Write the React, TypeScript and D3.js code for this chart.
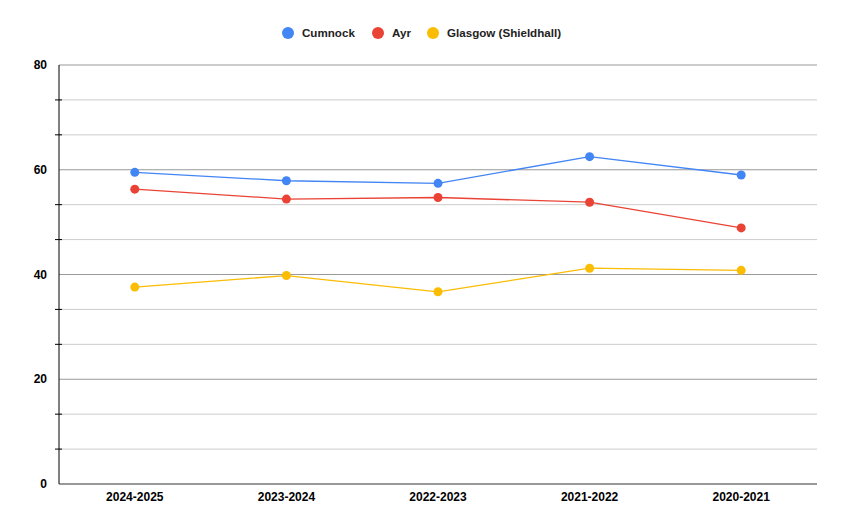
import { useEffect, useRef } from "react";
import * as d3 from "d3";

const categories = ["2024-2025", "2023-2024", "2022-2023", "2021-2022", "2020-2021"];
const seriesNames = ["Cumnock", "Ayr", "Glasgow (Shieldhall)"];
const seriesColors = ["#4285f4", "#ea4335", "#fbbc04"];
const cumnock = [59.5, 57.9, 57.4, 62.5, 59.0];
const ayr = [56.3, 54.4, 54.7, 53.8, 48.9];
const glasgow = [37.6, 39.8, 36.7, 41.2, 40.8];
const majorTicks = [0, 20, 40, 60, 80];
const minorTicks = [20 / 3, 40 / 3, 80 / 3, 100 / 3, 140 / 3, 160 / 3, 200 / 3, 220 / 3];

const W = 844;
const H = 531;
const FONT = "'Liberation Sans', Arial, sans-serif";

export default function App() {
    const ref = useRef<SVGSVGElement>(null);

    useEffect(() => {
        const svg = d3.select(ref.current);
        svg.selectAll("*").remove();

        const left = 59, right = 817, top = 65, bottom = 484;

        const x = d3.scaleBand()
            .domain(categories)
            .range([left, right]);
        const y = d3.scaleLinear()
            .domain([0, 80])
            .range([bottom, top]);

        // gridlines
        svg.append("g").selectAll("line")
            .data(minorTicks)
            .enter()
            .append("line")
                .attr("x1", left).attr("x2", right)
                .attr("y1", (d) => y(d)).attr("y2", (d) => y(d))
                .attr("stroke", "#cccccc").attr("stroke-width", 1);
        svg.append("g").selectAll("line")
            .data(majorTicks.filter((d) => d > 0))
            .enter()
            .append("line")
                .attr("x1", left).attr("x2", right)
                .attr("y1", (d) => y(d)).attr("y2", (d) => y(d))
                .attr("stroke", "#999999").attr("stroke-width", 1);

        // minor tick marks on the axis
        svg.append("g").selectAll("line")
            .data(minorTicks)
            .enter()
            .append("line")
                .attr("x1", left - 4).attr("x2", left + 3)
                .attr("y1", (d) => y(d)).attr("y2", (d) => y(d))
                .attr("stroke", "#000").attr("stroke-width", 1);

        // axis lines
        svg.append("line")
            .attr("x1", left).attr("x2", left)
            .attr("y1", top).attr("y2", bottom)
            .attr("stroke", "#000").attr("stroke-width", 1);
        svg.append("line")
            .attr("x1", left).attr("x2", right)
            .attr("y1", bottom).attr("y2", bottom)
            .attr("stroke", "#333").attr("stroke-width", 1);

        // y labels
        svg.append("g").selectAll("text")
            .data(majorTicks)
            .enter()
            .append("text")
                .attr("x", 47)
                .attr("y", (d) => y(d))
                .attr("dy", "0.35em")
                .attr("text-anchor", "end")
                .attr("font-family", FONT)
                .attr("font-size", 12)
                .attr("font-weight", "bold")
                .attr("fill", "#000")
                .text((d) => d);

        // x labels
        svg.append("g").selectAll("text")
            .data(categories)
            .enter()
            .append("text")
                .attr("x", (d) => (x(d) ?? 0) + x.bandwidth() / 2)
                .attr("y", 497)
                .attr("dy", "0.35em")
                .attr("text-anchor", "middle")
                .attr("font-family", FONT)
                .attr("font-size", 12)
                .attr("font-weight", "bold")
                .attr("fill", "#000")
                .text((d) => d);

        // series
        const allSeries = [cumnock, ayr, glasgow];
        const line = d3.line<number>()
            .x((d, i) => (x(categories[i]) ?? 0) + x.bandwidth() / 2)
            .y((d) => y(d));

        allSeries.forEach((values, si) => {
            const g = svg.append("g");
            g.append("path")
                .datum(values)
                .attr("d", line)
                .attr("fill", "none")
                .attr("stroke", seriesColors[si])
                .attr("stroke-width", 1.3);
            g.selectAll("circle")
                .data(values)
                .enter()
                .append("circle")
                    .attr("cx", (d, i) => (x(categories[i]) ?? 0) + x.bandwidth() / 2)
                    .attr("cy", (d) => y(d))
                    .attr("r", 4.5)
                    .attr("fill", seriesColors[si]);
        });

        // legend
        const legendX = [288, 378, 433];
        const legend = svg.append("g");
        seriesNames.forEach((name, i) => {
            legend.append("circle")
                .attr("cx", legendX[i])
                .attr("cy", 33)
                .attr("r", 6)
                .attr("fill", seriesColors[i]);
            legend.append("text")
                .attr("x", legendX[i] + 14)
                .attr("y", 33)
                .attr("dy", "0.35em")
                .attr("font-family", FONT)
                .attr("font-size", 11.6)
                .attr("font-weight", "bold")
                .attr("fill", "#222")
                .text(name);
        });
    }, [ref]);

    return (
        <svg ref={ref} width={W} height={H} style={{ display: "block", position: "absolute", left: 0, top: 0, background: "#fff" }} />
    );
}
